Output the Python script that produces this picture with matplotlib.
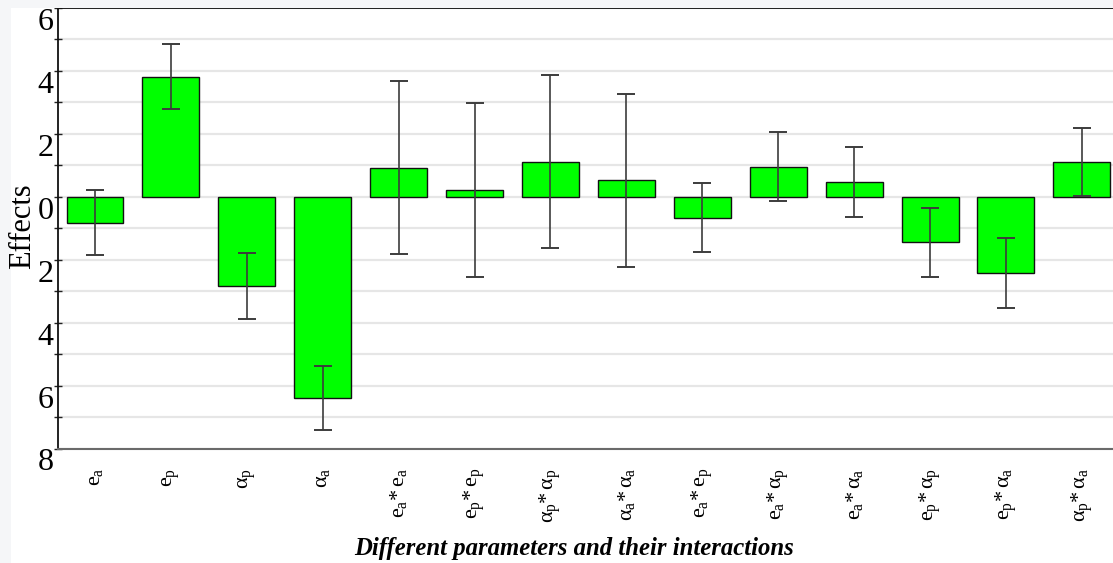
import matplotlib
matplotlib.use("Agg")
import matplotlib.pyplot as plt
from matplotlib.patches import Rectangle
from matplotlib.ticker import MultipleLocator, FixedLocator
import numpy as np

# Parameter names (mathtext) and their estimated effects with error half-widths
params = [r"$e_a$", r"$e_p$", r"$\alpha_p$", r"$\alpha_a$",
          r"$e_a{*}\,e_a$", r"$e_p{*}\,e_p$", r"$\alpha_p{*}\,\alpha_p$",
          r"$\alpha_a{*}\,\alpha_a$", r"$e_a{*}\,e_p$", r"$e_a{*}\,\alpha_p$",
          r"$e_a{*}\,\alpha_a$", r"$e_p{*}\,\alpha_p$", r"$e_p{*}\,\alpha_a$",
          r"$\alpha_p{*}\,\alpha_a$"]
effects = [-0.82, 3.82, -2.83, -6.40, 0.93, 0.22, 1.11, 0.52,
           -0.66, 0.96, 0.46, -1.45, -2.41, 1.10]
errors = [1.03, 1.03, 1.04, 1.02, 2.74, 2.76, 2.75, 2.74,
          1.09, 1.09, 1.11, 1.10, 1.11, 1.09]
ytick_values = [6, 4, 2, 0, -2, -4, -6, -8]
ytick_labels = ["6", "4", "2", "0", "2", "4", "6", "8"]

plt.rcParams["font.family"] = ["Liberation Serif", "DejaVu Serif"]
plt.rcParams["mathtext.fontset"] = "custom"
plt.rcParams["mathtext.rm"] = "Liberation Serif"
plt.rcParams["mathtext.it"] = "Liberation Serif"
plt.rcParams["mathtext.bf"] = "Liberation Serif:bold"

W, H = 1113, 563
fig = plt.figure(figsize=(W / 100, H / 100), dpi=100)
fig.patch.set_facecolor("white")

# light frame bands along the top and left edges
band = "#f5f6f8"
fig.patches.append(Rectangle((0, 0), 11 / W, 1, transform=fig.transFigure,
                             facecolor=band, edgecolor="none", zorder=0))
fig.patches.append(Rectangle((0, 1 - 8 / H), 1, 8 / H, transform=fig.transFigure,
                             facecolor=band, edgecolor="none", zorder=0))

left, right = 57.5 / W, 1.0
bottom, top = 1 - 448.5 / H, 1 - 8 / H
ax = fig.add_axes([left, bottom, right - left, top - bottom])
ax.set_facecolor("white")

x = np.arange(len(params))
ax.bar(x, effects, width=0.75, color="#00ff00", edgecolor="#111111",
       linewidth=1.0, zorder=2)
ax.errorbar(x, effects, yerr=errors, fmt="none", ecolor="#3c3c3c",
            elinewidth=1.2, capsize=6.5, capthick=1.4, zorder=3)

ax.set_xlim(-0.494, 13.41)
ax.set_ylim(-8, 6)

ax.yaxis.set_major_locator(FixedLocator(ytick_values))
ax.set_yticklabels(ytick_labels, fontsize=23)
ax.yaxis.set_minor_locator(MultipleLocator(1))
for lab in ax.get_yticklabels():
    lab.set_va("top")
ax.tick_params(axis="y", which="both", direction="inout", length=6,
               width=1.0, color="#222222", pad=0)
ax.grid(axis="y", which="both", color="#e6e6e6", linewidth=1.6)
ax.set_axisbelow(True)

ax.set_xticks(x)
ax.set_xticklabels(params, rotation=90, fontsize=16, va="top")
ax.tick_params(axis="x", length=0, pad=14)

ax.spines["right"].set_visible(False)
ax.spines["left"].set_color("#111111")
ax.spines["left"].set_linewidth(1.3)
ax.spines["top"].set_color("#111111")
ax.spines["top"].set_linewidth(1.3)
ax.spines["bottom"].set_color("#6a6a6a")
ax.spines["bottom"].set_linewidth(1.5)

fig.text(23 / W, 1 - 226 / H, "Effects", rotation=90, fontsize=22,
         ha="center", va="center")
fig.text(574 / W, 1 - 549 / H, "Different parameters and their interactions",
         fontsize=17.8, fontweight="bold", fontstyle="italic",
         ha="center", va="center")

fig.savefig("out.png", dpi=100)
